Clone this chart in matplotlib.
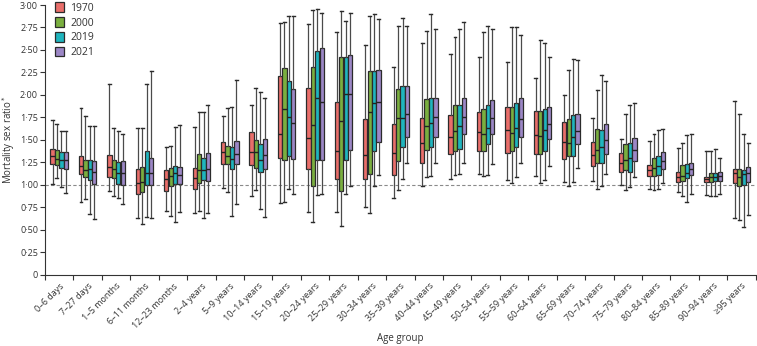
import matplotlib
matplotlib.use("Agg")
import matplotlib.pyplot as plt
import matplotlib.patches as mpatches
from matplotlib.ticker import FuncFormatter, FixedLocator

plt.rcParams['font.family'] = ['Open Sans', 'DejaVu Sans']

age_groups = ['0–6 days', '7–27 days', '1–5 months', '6–11 months', '12–23 months',
              '2–4 years', '5–9 years', '10–14 years', '15–19 years', '20–24 years',
              '25–29 years', '30–34 years', '35–39 years', '40–44 years', '45–49 years',
              '50–54 years', '55–59 years', '60–64 years', '65–69 years', '70–74 years',
              '75–79 years', '80–84 years', '85–89 years', '90–94 years', '≥95 years']

years = ['1970', '2000', '2019', '2021']
colors = ['#E96E6A', '#7AAF3F', '#1FB5BE', '#9C87C6']

# (whisker low, q1, median, q3, whisker high) per age group
stats_1970 = [(1.01, 1.23, 1.32, 1.40, 1.72), (0.81, 1.12, 1.21, 1.32, 1.85),
              (0.93, 1.08, 1.20, 1.33, 2.12), (0.63, 0.90, 1.02, 1.17, 1.63),
              (0.71, 0.93, 1.06, 1.16, 1.42), (0.69, 0.95, 1.07, 1.19, 1.64),
              (0.96, 1.23, 1.36, 1.47, 1.76), (0.87, 1.22, 1.36, 1.59, 1.89),
              (0.80, 1.30, 1.56, 2.21, 2.80), (0.70, 1.17, 1.52, 2.08, 2.79),
              (0.70, 1.06, 1.37, 1.92, 2.70), (0.75, 1.06, 1.33, 1.73, 2.55),
              (0.85, 1.11, 1.35, 1.67, 2.31), (0.99, 1.24, 1.46, 1.74, 2.58),
              (1.06, 1.34, 1.53, 1.78, 2.46), (1.12, 1.37, 1.59, 1.81, 2.42),
              (1.05, 1.35, 1.61, 1.87, 2.37), (1.10, 1.34, 1.55, 1.82, 2.19),
              (1.03, 1.29, 1.47, 1.70, 2.00), (1.04, 1.21, 1.33, 1.47, 1.74),
              (1.00, 1.14, 1.24, 1.35, 1.51), (0.95, 1.10, 1.16, 1.22, 1.49),
              (0.92, 1.03, 1.09, 1.14, 1.41), (0.88, 1.03, 1.06, 1.09, 1.38),
              (0.63, 1.02, 1.13, 1.18, 1.93)]
stats_2000 = [(1.07, 1.22, 1.29, 1.39, 1.68), (0.84, 1.09, 1.16, 1.28, 1.76),
              (0.87, 1.07, 1.18, 1.28, 1.63), (0.56, 0.92, 1.03, 1.20, 1.63),
              (0.65, 0.99, 1.10, 1.19, 1.43), (0.71, 1.02, 1.16, 1.34, 1.81),
              (0.92, 1.23, 1.32, 1.43, 1.85), (0.94, 1.19, 1.36, 1.50, 2.08),
              (0.81, 1.28, 1.84, 2.30, 2.81), (0.58, 0.99, 1.66, 2.31, 2.94),
              (0.54, 0.93, 1.71, 2.42, 2.93), (0.68, 1.12, 1.81, 2.26, 2.88),
              (0.94, 1.26, 1.74, 2.07, 2.77), (1.09, 1.39, 1.65, 1.95, 2.71),
              (1.11, 1.38, 1.60, 1.89, 2.64), (1.10, 1.37, 1.56, 1.84, 2.70),
              (1.02, 1.37, 1.58, 1.87, 2.75), (1.02, 1.34, 1.54, 1.82, 2.61),
              (0.99, 1.32, 1.46, 1.73, 2.28), (0.95, 1.24, 1.39, 1.62, 2.05),
              (0.94, 1.16, 1.28, 1.45, 1.79), (0.94, 1.10, 1.19, 1.30, 1.56),
              (0.87, 1.04, 1.10, 1.22, 1.46), (0.87, 1.03, 1.08, 1.13, 1.37),
              (0.61, 0.98, 1.09, 1.18, 1.79)]
stats_2019 = [(0.97, 1.19, 1.28, 1.36, 1.60), (0.67, 1.05, 1.17, 1.28, 1.65),
              (0.85, 1.01, 1.13, 1.25, 1.60), (0.64, 1.00, 1.13, 1.37, 2.12),
              (0.58, 1.01, 1.13, 1.21, 1.64), (0.63, 1.05, 1.16, 1.30, 1.81),
              (0.65, 1.17, 1.29, 1.42, 1.86), (0.73, 1.14, 1.27, 1.45, 2.03),
              (0.95, 1.32, 1.75, 2.15, 2.88), (0.89, 1.28, 1.96, 2.49, 2.96),
              (0.90, 1.28, 2.01, 2.42, 2.82), (0.99, 1.37, 1.91, 2.26, 2.90),
              (1.06, 1.42, 1.74, 2.10, 2.86), (1.10, 1.42, 1.69, 1.96, 2.90),
              (1.12, 1.40, 1.65, 1.89, 2.73), (1.11, 1.45, 1.63, 1.89, 2.77),
              (1.09, 1.42, 1.63, 1.91, 2.75), (1.05, 1.37, 1.61, 1.84, 2.58),
              (1.03, 1.32, 1.53, 1.78, 2.40), (0.99, 1.24, 1.42, 1.61, 2.22),
              (0.97, 1.14, 1.30, 1.46, 1.89), (0.95, 1.11, 1.21, 1.32, 1.61),
              (0.81, 1.07, 1.13, 1.23, 1.55), (0.87, 1.04, 1.09, 1.13, 1.40),
              (0.53, 1.00, 1.12, 1.16, 1.56)]
stats_2021 = [(0.91, 1.18, 1.27, 1.36, 1.60), (0.62, 1.01, 1.14, 1.26, 1.65),
              (0.79, 1.00, 1.13, 1.26, 1.56), (0.63, 1.00, 1.13, 1.30, 2.26),
              (0.70, 1.01, 1.11, 1.20, 1.66), (0.69, 1.04, 1.17, 1.35, 1.89),
              (0.78, 1.23, 1.34, 1.49, 2.16), (0.64, 1.18, 1.33, 1.51, 1.96),
              (0.90, 1.29, 1.69, 2.07, 2.88), (0.90, 1.28, 1.92, 2.52, 2.91),
              (0.99, 1.39, 2.01, 2.44, 2.91), (1.11, 1.48, 1.92, 2.28, 2.84),
              (1.24, 1.53, 1.79, 2.10, 2.77), (1.24, 1.53, 1.75, 1.97, 2.73),
              (1.24, 1.56, 1.75, 1.97, 2.81), (1.23, 1.56, 1.74, 1.94, 2.73),
              (1.24, 1.53, 1.73, 1.96, 2.67), (1.21, 1.51, 1.68, 1.87, 2.42),
              (1.19, 1.45, 1.60, 1.79, 2.39), (1.12, 1.34, 1.50, 1.68, 2.15),
              (1.08, 1.26, 1.39, 1.52, 1.91), (1.02, 1.17, 1.26, 1.36, 1.62),
              (0.90, 1.11, 1.17, 1.24, 1.56), (0.90, 1.04, 1.10, 1.14, 1.30),
              (0.66, 1.03, 1.13, 1.20, 1.46)]

all_stats = [stats_1970, stats_2000, stats_2019, stats_2021]

fig = plt.figure(figsize=(7.57, 3.46), dpi=100)
ax = fig.add_axes([0.0594, 0.2066, 0.9389, 0.7789])

step = 0.155
width = 0.15
edge = '#2b2b2b'
for k, (stats, col) in enumerate(zip(all_stats, colors)):
    bstats = [dict(whislo=s[0], q1=s[1], med=s[2], q3=s[3], whishi=s[4], fliers=[])
              for s in stats]
    pos = [i + (k - 1.5) * step for i in range(len(stats))]
    ax.bxp(bstats, positions=pos, widths=width, patch_artist=True, showfliers=False,
           manage_ticks=False,
           boxprops=dict(facecolor=col, edgecolor=edge, linewidth=0.9),
           medianprops=dict(color='#222222', linewidth=1.0),
           whiskerprops=dict(color='#4a4a4a', linewidth=0.9),
           capprops=dict(color='#2b2b2b', linewidth=1.0),
           capwidths=width * 0.7)

ax.axhline(1.0, color='#8a8a8a', linestyle=(0, (3, 2)), linewidth=0.8, zorder=0)

ax.set_xlim(-0.5, len(age_groups) - 0.5)
ax.set_ylim(0, 3.0)
ax.set_yticks([0, 0.25, 0.5, 0.75, 1.0, 1.25, 1.5, 1.75, 2.0, 2.25, 2.5, 2.75, 3.0])
ax.yaxis.set_major_formatter(FuncFormatter(
    lambda v, p: '0' if v == 0 else f'{v:.2f}'.replace('.', '·')))

# labels at group centres, tick marks at group boundaries
ax.set_xticks(range(len(age_groups)))
ax.set_xticklabels(age_groups, rotation=45, ha='right', rotation_mode='anchor')
ax.xaxis.set_minor_locator(FixedLocator([i - 0.5 for i in range(len(age_groups) + 1)]))
ax.tick_params(axis='x', which='major', length=0, pad=5, labelsize=6.5, labelcolor='#333333')
ax.tick_params(axis='x', which='minor', length=3.5, width=0.8, color='#333333')
ax.tick_params(axis='y', length=3.5, width=0.8, color='#333333', labelsize=6.5,
               labelcolor='#333333', pad=1.5)

for s in ['top', 'right']:
    ax.spines[s].set_visible(False)
for s in ['left', 'bottom']:
    ax.spines[s].set_color('#333333')
    ax.spines[s].set_linewidth(0.8)

ax.set_ylabel('Mortality sex ratio$^*$', fontsize=7, color='#333333', labelpad=2)
ax.set_xlabel('Age group', fontsize=7, color='#333333', labelpad=2)

handles = [mpatches.Patch(facecolor=c, edgecolor=edge, linewidth=0.9, label=y)
           for c, y in zip(colors, years)]
ax.legend(handles=handles, loc='upper left', bbox_to_anchor=(0.008, 1.025), frameon=False,
          fontsize=7.5, handlelength=0.9, handleheight=1.0, handletextpad=0.6,
          labelspacing=0.35, borderaxespad=0, labelcolor='#333333')

fig.savefig('out.png', dpi=100)
